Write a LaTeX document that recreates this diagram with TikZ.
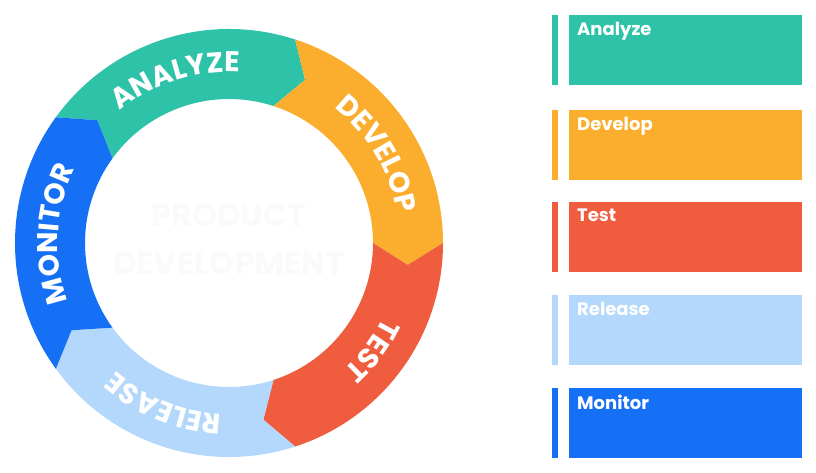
\documentclass[tikz,border=0pt]{standalone}
\usepackage{fontspec}
\setmainfont{Poppins}
\usetikzlibrary{positioning,decorations.text}

\definecolor{analyzecol}{HTML}{2EC3A8}
\definecolor{developcol}{HTML}{FBAE2E}
\definecolor{testcol}{HTML}{F05C3E}
\definecolor{releasecol}{HTML}{B3D8FB}
\definecolor{monitorcol}{HTML}{1570F5}

\def\Rout{214pt}
\def\Rmid{180pt}
\def\Rin{144pt}
\newcommand{\ringfont}{\fontsize{28.5}{28.5}\selectfont\bfseries}

% one arrow-shaped piece of the ring: start angle, end angle, colour
\newcommand{\ringseg}[3]{%
  \fill[#3] (#1:\Rout) -- (#1-7:\Rmid) -- (#1:\Rin)
    arc[start angle=#1, end angle=#2, radius=\Rin]
    -- (#2-7:\Rmid) -- (#2:\Rout)
    arc[start angle=#2, end angle=#1, radius=\Rout] -- cycle;}

\begin{document}
\begin{tikzpicture}[x=1pt, y=1pt,
    panel/.style={rectangle, minimum width=233pt, minimum height=70pt, inner sep=0pt, outer sep=0pt, anchor=north west},
    stripe/.style={rectangle, minimum width=6pt, minimum height=70pt, inner sep=0pt, outer sep=0pt, anchor=north west},
    panellabel/.style={text=white, font=\fontsize{18}{18}\selectfont\bfseries, inner sep=0pt, anchor=north west},
    centertext/.style={text=black!2, font=\fontsize{32}{48}\selectfont\bfseries, align=center}]

    \useasboundingbox (0,0) rectangle (816,-473);

    % the ring
    \begin{scope}[shift={(229,-243)}]
        \foreach \a/\col in {144/analyzecol, 72/developcol, 0/testcol, -72/releasecol, -144/monitorcol}
            \ringseg{\a}{\a-72}{\col};

        % labels on the ring, read clockwise (centre angle/text)
        \foreach \c/\lab in {108/ANALYZE, 31/DEVELOP, -37/TEST, -112/RELEASE, 177/MONITOR}
            \path[decorate, decoration={text along path, text align=center, text color=white,
                text/.expanded={|\noexpand\ringfont|\lab}}]
                (\c+40:171pt) arc[start angle=\c+40, end angle=\c-40, radius=171pt];

        \node[centertext] (title) at (0,4) {PRODUCT\\DEVELOPMENT};
    \end{scope}

    % legend panels
    \foreach \lab/\col/\top [count=\i] in {Analyze/analyzecol/15, Develop/developcol/110, Test/testcol/202, Release/releasecol/295, Monitor/monitorcol/388} {
        \node[stripe, fill=\col] (stripe\i) at (552,-\top) {};
        \node[panel, fill=\col] (panel\i) at (569,-\top) {};
        \node[panellabel] (label\i) at ([xshift=8pt, yshift=-7pt]panel\i.north west) {\lab};
    }

\end{tikzpicture}
\end{document}
